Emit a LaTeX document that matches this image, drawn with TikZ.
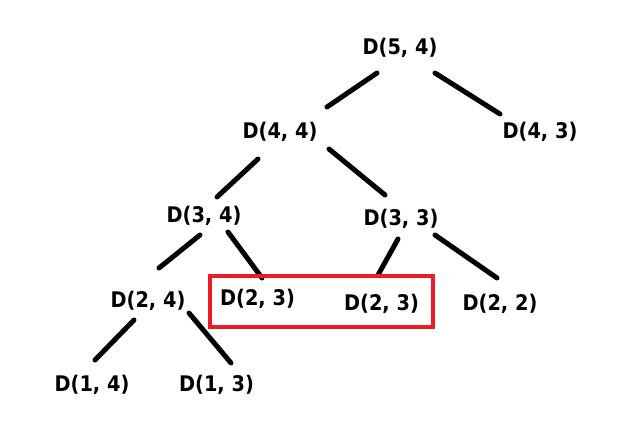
\documentclass[tikz,border=0pt]{standalone}
\usepackage{fontspec}
\setmainfont{DejaVu Sans}
\newfontfamily\lblfont[FakeStretch=0.9]{DejaVu Sans}
\definecolor{boxred}{RGB}{237,28,36}
\begin{document}
\begin{tikzpicture}[x=1pt,y=-1pt,
  lbl/.style={inner sep=0pt,font=\lblfont\bfseries\fontsize{21.5}{24}\selectfont},
  edge/.style={line width=5pt,line cap=round}]
\useasboundingbox (0,0) rectangle (638,444);
\node[lbl] (n54) at (400,48) {D(5, 4)};
\node[lbl] (n44) at (280,131.5) {D(4, 4)};
\node[lbl] (n43) at (540,131.5) {D(4, 3)};
\node[lbl] (n34) at (204,216) {D(3, 4)};
\node[lbl] (n33) at (401,218.5) {D(3, 3)};
\node[lbl] (n24) at (148,301) {D(2, 4)};
\node[lbl] (n23a) at (257.5,299) {D(2, 3)};
\node[lbl] (n23b) at (381.5,304) {D(2, 3)};
\node[lbl] (n22) at (500,304) {D(2, 2)};
\node[lbl] (n14) at (92,385) {D(1, 4)};
\node[lbl] (n13) at (216.5,385) {D(1, 3)};
\draw[edge] ([shift={(-23,25)}]n54.center) -- ([shift={(47,-24.5)}]n44.center);
\draw[edge] ([shift={(35,25)}]n54.center) -- ([shift={(-40,-17.5)}]n43.center);
\draw[edge] ([shift={(-22,27.5)}]n44.center) -- ([shift={(13,-19)}]n34.center);
\draw[edge] ([shift={(49,17.5)}]n44.center) -- ([shift={(-16,-23.5)}]n33.center);
\draw[edge] ([shift={(-4,19)}]n34.center) -- ([shift={(11,-33)}]n24.center);
\draw[edge] ([shift={(24,16)}]n34.center) -- ([shift={(4.5,-21)}]n23a.center);
\draw[edge] ([shift={(-3,20.5)}]n33.center) -- ([shift={(-3.5,-29)}]n23b.center);
\draw[edge] ([shift={(34,16.5)}]n33.center) -- ([shift={(-3,-26)}]n22.center);
\draw[edge] ([shift={(-14,19)}]n24.center) -- ([shift={(3,-25)}]n14.center);
\draw[edge] ([shift={(41,12)}]n24.center) -- ([shift={(14.5,-22)}]n13.center);
\node[draw=boxred,line width=4pt,inner sep=0pt,minimum width=223pt,minimum height=51pt] (dup) at (321.5,301.5) {};
\end{tikzpicture}
\end{document}
